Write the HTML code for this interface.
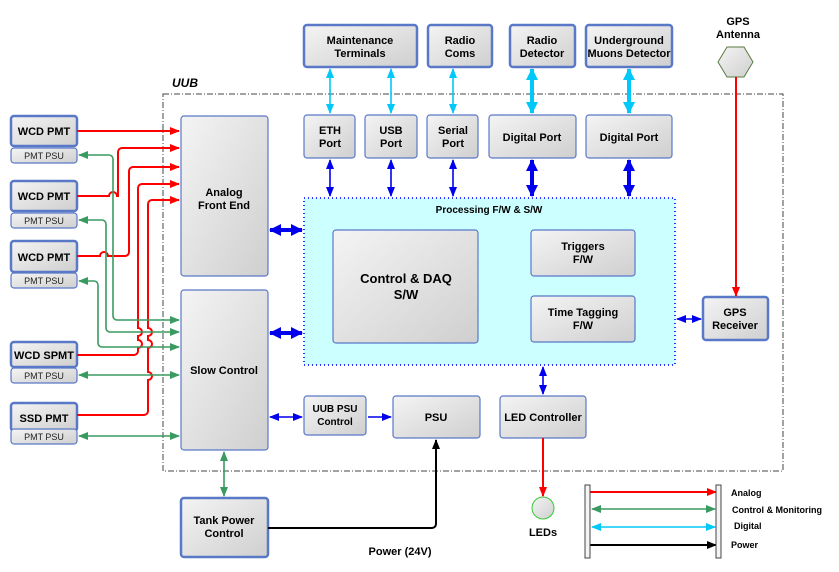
<!DOCTYPE html>
<html><head><meta charset="utf-8"><style>
body{margin:0;background:#fff}
svg{display:block;font-family:"Liberation Sans",Arial,sans-serif;font-weight:bold}
</style></head><body>
<svg width="839" height="572" viewBox="0 0 839 572" xmlns="http://www.w3.org/2000/svg">
<defs>
<linearGradient id="g" x1="0" y1="0" x2="1" y2="1"><stop offset="0" stop-color="#f4f4f4"/><stop offset="1" stop-color="#cfcfcf"/></linearGradient>
<marker id="ar" markerWidth="10" markerHeight="8" refX="9" refY="4" orient="auto-start-reverse" markerUnits="userSpaceOnUse"><path d="M0,0L10,4L0,8z" fill="#f00"/></marker>
<marker id="ag" markerWidth="10" markerHeight="8" refX="9" refY="4" orient="auto-start-reverse" markerUnits="userSpaceOnUse"><path d="M0,0L10,4L0,8z" fill="#3a9a60"/></marker>
<marker id="ac" markerWidth="10" markerHeight="8" refX="9" refY="4" orient="auto-start-reverse" markerUnits="userSpaceOnUse"><path d="M0,0L10,4L0,8z" fill="#00c8f8"/></marker>
<marker id="acb" markerWidth="12" markerHeight="12" refX="11" refY="6" orient="auto-start-reverse" markerUnits="userSpaceOnUse"><path d="M0,0L12,6L0,12z" fill="#00c8f8"/></marker>
<marker id="ab" markerWidth="10" markerHeight="8" refX="9" refY="4" orient="auto-start-reverse" markerUnits="userSpaceOnUse"><path d="M0,0L10,4L0,8z" fill="#0000ee"/></marker>
<marker id="abb" markerWidth="12" markerHeight="12" refX="11" refY="6" orient="auto-start-reverse" markerUnits="userSpaceOnUse"><path d="M0,0L12,6L0,12z" fill="#0000ee"/></marker>
<marker id="ak" markerWidth="10" markerHeight="8" refX="9" refY="4" orient="auto-start-reverse" markerUnits="userSpaceOnUse"><path d="M0,0L10,4L0,8z" fill="#000"/></marker>
</defs>

<!-- UUB dashed -->
<rect x="163" y="94" width="620" height="377" fill="none" stroke="#444" stroke-dasharray="6,2,1,2" stroke-width="1"/>
<text x="172" y="87" font-size="12" font-style="italic">UUB</text>

<!-- processing -->
<rect x="304" y="198" width="371" height="167" fill="#ccffff" stroke="#3030ff" stroke-dasharray="1,3" stroke-width="2"/>
<text x="489" y="213" font-size="10" text-anchor="middle">Processing F/W &amp; S/W</text>

<g stroke="#5a78c8" stroke-width="1.2" fill="url(#g)">
<!-- left devices -->
<rect x="11" y="116" width="66" height="30" rx="3" stroke-width="2.5"/>
<rect x="11" y="148" width="66" height="15" rx="3"/>
<rect x="11" y="181" width="66" height="30" rx="3" stroke-width="2.5"/>
<rect x="11" y="213" width="66" height="15" rx="3"/>
<rect x="11" y="241" width="66" height="31" rx="3" stroke-width="2.5"/>
<rect x="11" y="273" width="66" height="15" rx="3"/>
<rect x="11" y="342" width="66" height="25" rx="3" stroke-width="2.5"/>
<rect x="11" y="368" width="66" height="15" rx="3"/>
<rect x="11" y="403" width="66" height="28" rx="3" stroke-width="2.5"/>
<rect x="11" y="429" width="66" height="15" rx="3"/>
<rect x="181" y="116" width="87" height="160" rx="3"/>
<rect x="181" y="290" width="87" height="160" rx="3"/>
<rect x="304" y="25" width="113" height="42" rx="3" stroke-width="2.5"/>
<rect x="428" y="25" width="64" height="42" rx="3" stroke-width="2.5"/>
<rect x="510" y="25" width="65" height="42" rx="3" stroke-width="2.5"/>
<rect x="586" y="25" width="86" height="42" rx="3" stroke-width="2.5"/>
<rect x="304" y="115" width="51" height="43" rx="3"/>
<rect x="365" y="115" width="52" height="43" rx="3"/>
<rect x="427" y="115" width="51" height="43" rx="3"/>
<rect x="489" y="115" width="87" height="43" rx="3"/>
<rect x="586" y="115" width="86" height="43" rx="3"/>
<rect x="333" y="230" width="145" height="113" rx="3"/>
<rect x="531" y="230" width="104" height="46" rx="3"/>
<rect x="531" y="296" width="104" height="46" rx="3"/>
<rect x="703" y="297" width="65" height="43" rx="3" stroke-width="2.5"/>
<rect x="304" y="396" width="62" height="39" rx="3"/>
<rect x="393" y="396" width="87" height="42" rx="3"/>
<rect x="500" y="396" width="86" height="42" rx="3"/>
<rect x="181" y="498" width="87" height="59" rx="3" stroke-width="2.5"/>
</g>
<polygon points="727,47 744,47 753,62 744,77 727,77 718,62" fill="url(#g)" stroke="#5a7a40"/>
<circle cx="543" cy="508" r="11" fill="url(#g)" stroke="#3c3"/>

<!-- text -->
<g font-size="11" text-anchor="middle">
<text x="44" y="135">WCD PMT</text>
<text x="44" y="200">WCD PMT</text>
<text x="44" y="261">WCD PMT</text>
<text x="44" y="359">WCD SPMT</text>
<text x="44" y="422">SSD PMT</text>
<text x="224" y="196">Analog</text><text x="224" y="209">Front End</text>
<text x="224" y="374">Slow Control</text>
<text x="360" y="44">Maintenance</text><text x="360" y="57">Terminals</text>
<text x="460" y="44">Radio</text><text x="460" y="57">Coms</text>
<text x="542" y="44">Radio</text><text x="542" y="57">Detector</text>
<text x="629" y="44">Underground</text><text x="629" y="57">Muons Detector</text>
<text x="738" y="25">GPS</text><text x="738" y="38">Antenna</text>
<text x="330" y="134">ETH</text><text x="330" y="147">Port</text>
<text x="391" y="134">USB</text><text x="391" y="147">Port</text>
<text x="453" y="134">Serial</text><text x="453" y="147">Port</text>
<text x="532" y="141">Digital Port</text>
<text x="629" y="141">Digital Port</text>
<text x="406" y="283" font-size="13">Control &amp; DAQ</text><text x="406" y="299" font-size="13">S/W</text>
<text x="583" y="250">Triggers</text><text x="583" y="263">F/W</text>
<text x="583" y="316">Time Tagging</text><text x="583" y="329">F/W</text>
<text x="735" y="316">GPS</text><text x="735" y="329">Receiver</text>
<text x="335" y="412" font-size="10">UUB PSU</text><text x="335" y="425" font-size="10">Control</text>
<text x="436" y="421">PSU</text>
<text x="543" y="421">LED Controller</text>
<text x="224" y="524">Tank Power</text><text x="224" y="537">Control</text>
<text x="543" y="536">LEDs</text>
<text x="400" y="555">Power (24V)</text>
</g>
<g font-size="9" font-weight="normal" text-anchor="middle" fill="#222">
<text x="44" y="159">PMT PSU</text><text x="44" y="224">PMT PSU</text><text x="44" y="284">PMT PSU</text>
<text x="44" y="379">PMT PSU</text><text x="44" y="440">PMT PSU</text>
</g>
<g font-size="9">
<text x="731" y="496">Analog</text>
<text x="732" y="513">Control &amp; Monitoring</text>
<text x="734" y="529">Digital</text>
<text x="731" y="548">Power</text>
</g>

<!-- red analog lines -->
<g fill="none" stroke="#f00" stroke-width="2">
<path d="M77,131H179" marker-end="url(#ar)"/>
<path d="M77,196H109a4,4 0 0 1 8,0H118V152a4,4 0 0 1 4,-4H179" marker-end="url(#ar)"/>
<path d="M77,256H100a4,4 0 0 1 8,0H125a4,4 0 0 0 4,-4V171a4,4 0 0 1 4,-4H179" marker-end="url(#ar)"/>
<path d="M77,355H134a4,4 0 0 0 4,-4V348a4,4 0 0 0 0,-8V336a4,4 0 0 0 0,-8V188a4,4 0 0 1 4,-4H179" marker-end="url(#ar)"/>
<path d="M77,415H144a4,4 0 0 0 4,-4V380a4,4 0 0 0 0,-8V348a4,4 0 0 0 0,-8V336a4,4 0 0 0 0,-8V204a4,4 0 0 1 4,-4H179" marker-end="url(#ar)"/>
<path d="M736,77V296" marker-end="url(#ar)"/>
<path d="M543,438V496" marker-end="url(#ar)"/>
<path d="M590,492H716" marker-end="url(#ar)"/>
</g>
<!-- green lines -->
<g fill="none" stroke="#3a9a60" stroke-width="1.6">
<path d="M179,320H117a4,4 0 0 1 -4,-4V159a4,4 0 0 0 -4,-4H79" marker-start="url(#ag)" marker-end="url(#ag)"/>
<path d="M179,332H110a4,4 0 0 1 -4,-4V224a4,4 0 0 0 -4,-4H79" marker-start="url(#ag)" marker-end="url(#ag)"/>
<path d="M179,347H102a4,4 0 0 1 -4,-4V285a4,4 0 0 0 -4,-4H79" marker-start="url(#ag)" marker-end="url(#ag)"/>
<path d="M79,375H179" marker-start="url(#ag)" marker-end="url(#ag)"/>
<path d="M79,436H179" marker-start="url(#ag)" marker-end="url(#ag)"/>
<path d="M224,452V496" marker-start="url(#ag)" marker-end="url(#ag)"/>
<path d="M592,509H715" marker-start="url(#ag)" marker-end="url(#ag)"/>
</g>
<!-- cyan -->
<g fill="none" stroke="#00c8f8" stroke-width="1.6">
<path d="M330,69V113" marker-start="url(#ac)" marker-end="url(#ac)"/>
<path d="M391,69V113" marker-start="url(#ac)" marker-end="url(#ac)"/>
<path d="M453,69V113" marker-start="url(#ac)" marker-end="url(#ac)"/>
<path d="M592,527H715" marker-start="url(#ac)" marker-end="url(#ac)"/>
</g>
<g fill="none" stroke="#00c8f8" stroke-width="4">
<path d="M532,69V113" marker-start="url(#acb)" marker-end="url(#acb)"/>
<path d="M629,69V113" marker-start="url(#acb)" marker-end="url(#acb)"/>
</g>
<!-- blue -->
<g fill="none" stroke="#0000ee" stroke-width="1.6">
<path d="M330,160V196" marker-start="url(#ab)" marker-end="url(#ab)"/>
<path d="M391,160V196" marker-start="url(#ab)" marker-end="url(#ab)"/>
<path d="M453,160V196" marker-start="url(#ab)" marker-end="url(#ab)"/>
<path d="M270,417H302" marker-start="url(#ab)" marker-end="url(#ab)"/>
<path d="M368,417H391" marker-end="url(#ab)"/>
<path d="M543,367V394" marker-start="url(#ab)" marker-end="url(#ab)"/>
<path d="M677,319H701" marker-start="url(#ab)" marker-end="url(#ab)"/>
</g>
<g fill="none" stroke="#0000ee" stroke-width="4">
<path d="M532,160V196" marker-start="url(#abb)" marker-end="url(#abb)"/>
<path d="M629,160V196" marker-start="url(#abb)" marker-end="url(#abb)"/>
<path d="M270,230H302" marker-start="url(#abb)" marker-end="url(#abb)"/>
<path d="M270,333H302" marker-start="url(#abb)" marker-end="url(#abb)"/>
</g>
<!-- power -->
<g fill="none" stroke="#000" stroke-width="2">
<path d="M268,528H432a4,4 0 0 0 4,-4V440" marker-end="url(#ak)"/>
<path d="M590,545H716" marker-end="url(#ak)"/>
</g>
<!-- legend bars -->
<rect x="585" y="485" width="5" height="73" fill="#f4f4f4" stroke="#444"/>
<rect x="716" y="485" width="5" height="73" fill="#f4f4f4" stroke="#444"/>
</svg>
</body></html>
